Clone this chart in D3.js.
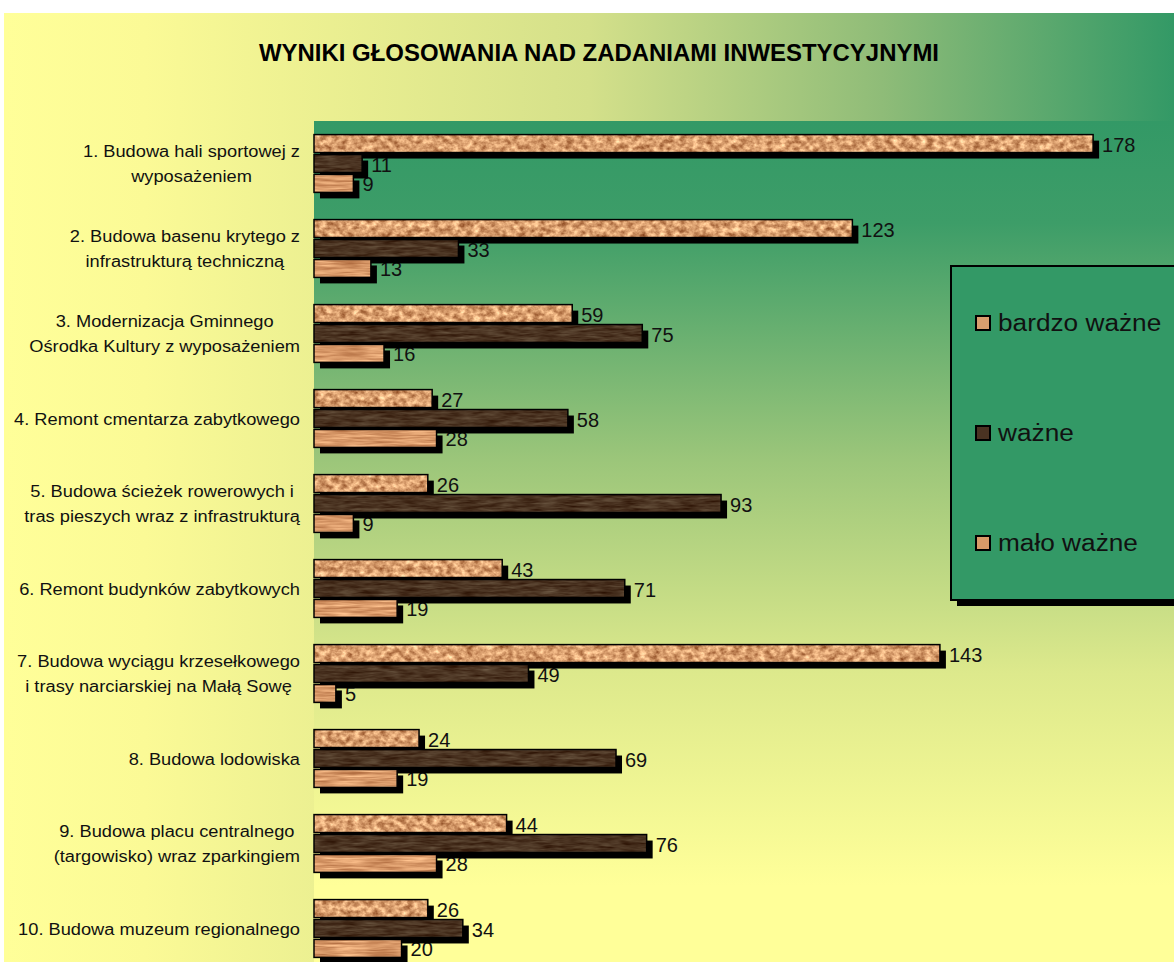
<!DOCTYPE html>
<html>
<head>
<meta charset="utf-8">
<script src="https://cdn.jsdelivr.net/npm/d3@7"></script>
<style>
  body { margin: 0; background: #fff; }
  svg { display: block; font-family: Arial, "Liberation Sans", sans-serif; }
</style>
</head>
<body>
<svg width="1174" height="962"></svg>
<script>
const width = 1174;
const height = 962;

const categories = [
  "1. Budowa hali sportowej z\nwyposażeniem",
  "2. Budowa basenu krytego z\ninfrastrukturą techniczną",
  "3. Modernizacja Gminnego\nOśrodka Kultury z wyposażeniem",
  "4. Remont cmentarza zabytkowego",
  "5. Budowa ścieżek rowerowych i\ntras pieszych wraz z infrastrukturą",
  "6. Remont budynków zabytkowych",
  "7. Budowa wyciągu krzesełkowego\ni trasy narciarskiej na Małą Sowę",
  "8. Budowa lodowiska",
  "9. Budowa placu centralnego\n(targowisko) wraz zparkingiem",
  "10. Budowa muzeum regionalnego"
];
const seriesNames = ["bardzo ważne", "ważne", "mało ważne"];
const bardzoWazne = [178, 123, 59, 27, 26, 43, 143, 24, 44, 26];
const wazne = [11, 33, 75, 58, 93, 71, 49, 69, 76, 34];
const maloWazne = [9, 13, 16, 28, 9, 19, 5, 19, 28, 20];
const seriesValues = [bardzoWazne, wazne, maloWazne];
const title = "WYNIKI GŁOSOWANIA NAD ZADANIAMI INWESTYCYJNYMI";

const svg = d3.select("svg");
const defs = svg.append("defs");
const stretch = 1.14; // the original text is drawn a bit wider than Arial

function widen(sel, k) {
  const w = sel.node().getComputedTextLength();
  sel.attr("textLength", w * k).attr("lengthAdjust", "spacingAndGlyphs");
}

// backgrounds
const bgGrad = defs.append("linearGradient").attr("id", "bgGrad")
  .attr("x1", 0).attr("x2", 1).attr("y1", 0).attr("y2", 0);
bgGrad.append("stop").attr("offset", "0%").attr("stop-color", "#ffff99");
bgGrad.append("stop").attr("offset", "12%").attr("stop-color", "#fbfa96");
bgGrad.append("stop").attr("offset", "50%").attr("stop-color", "#d4e08a");
bgGrad.append("stop").attr("offset", "75%").attr("stop-color", "#8fbc78");
bgGrad.append("stop").attr("offset", "100%").attr("stop-color", "#339966");

const plotGrad = defs.append("linearGradient").attr("id", "plotGrad")
  .attr("x1", 0).attr("x2", 0).attr("y1", 0).attr("y2", 1);
plotGrad.append("stop").attr("offset", "0%").attr("stop-color", "#339966");
plotGrad.append("stop").attr("offset", "12%").attr("stop-color", "#3d9d68");
plotGrad.append("stop").attr("offset", "40%").attr("stop-color", "#9cc67a");
plotGrad.append("stop").attr("offset", "65%").attr("stop-color", "#dde98c");
plotGrad.append("stop").attr("offset", "90%").attr("stop-color", "#ffff99");

// bar textures: noise mapped around a base colour
function textureFilter(id, freq, base, amp, seed) {
  const f = defs.append("filter").attr("id", id)
    .attr("x", 0).attr("y", 0).attr("width", 1).attr("height", 1)
    .attr("color-interpolation-filters", "sRGB");
  f.append("feTurbulence").attr("type", "fractalNoise")
    .attr("baseFrequency", freq).attr("numOctaves", 3).attr("seed", seed).attr("result", "noise");
  const row = (b, a) => `${a} 0 0 0 ${b - a * 0.5}`;
  f.append("feColorMatrix").attr("in", "noise").attr("type", "matrix")
    .attr("values", [row(base[0], amp), row(base[1], amp * 1.1), row(base[2], amp), "0 0 0 0 1"].join(" "))
    .attr("result", "col");
  f.append("feComposite").attr("in", "col").attr("in2", "SourceAlpha").attr("operator", "in");
}
textureFilter("tex0", "0.15 0.18", [0.85, 0.62, 0.43], 0.75, 7);
textureFilter("tex1", "0.05 0.35", [0.29, 0.20, 0.13], 0.3, 4);
textureFilter("tex2", "0.03 0.4", [0.85, 0.60, 0.41], 0.45, 11);

const barColors = ["#d99e6e", "#4a3322", "#d99a68"];

svg.append("rect").attr("x", 4).attr("y", 13).attr("width", width - 4).attr("height", height - 13)
  .attr("fill", "url(#bgGrad)");

const plotTop = 121, plotLeft = 314;
const x = d3.scaleLinear().domain([0, 200]).range([plotLeft, plotLeft + 200 * 4.377]);
const y0 = d3.scaleBand().domain(categories).range([plotTop, plotTop + 850])
  .paddingInner(0.32).paddingOuter(0.16);
const y1 = d3.scaleBand().domain(seriesNames).range([0, y0.bandwidth()]).paddingInner(0.1);

svg.append("rect").attr("x", plotLeft).attr("y", plotTop)
  .attr("width", width - plotLeft + 20).attr("height", 850).attr("fill", "url(#plotGrad)");

svg.append("text").attr("x", 599).attr("y", 61).attr("text-anchor", "middle")
  .attr("font-size", 23).attr("font-weight", "bold")
  .attr("textLength", 680).attr("lengthAdjust", "spacingAndGlyphs")
  .text(title);

// category labels: right-aligned block, lines centered
const catG = svg.append("g");
categories.forEach(c => {
  const lines = c.split("\n");
  const g = catG.append("g");
  const texts = lines.map(l => g.append("text").attr("font-size", 16).attr("fill", "#111").text(l));
  const widths = texts.map(t => t.node().getComputedTextLength() * stretch);
  const maxW = d3.max(widths);
  const cx = 300 - maxW / 2;
  const cy = y0(c) + y0.bandwidth() / 2;
  const lh = 25;
  texts.forEach((t, i) => {
    t.attr("x", cx).attr("text-anchor", "middle")
      .attr("y", cy + (i - (lines.length - 1) / 2) * lh + 6)
      .attr("textLength", widths[i]).attr("lengthAdjust", "spacingAndGlyphs");
  });
});

const rows = [];
seriesNames.forEach((s, si) => {
  seriesValues[si].forEach((v, ci) => rows.push({ s, si, c: categories[ci], v }));
});

// value labels drawn first so the bar shadows overlap them
svg.append("g").selectAll("text").data(rows).enter().append("text")
  .attr("x", d => x(d.v) + 9)
  .attr("y", d => y0(d.c) + y1(d.s) + y1.bandwidth() / 2 + 8)
  .attr("font-size", 20).attr("fill", "#111")
  .text(d => d.v);

const bars = svg.append("g").selectAll("g").data(rows).enter().append("g");
bars.append("rect")
  .attr("x", d => x(0) + 6).attr("y", d => y0(d.c) + y1(d.s) + 6)
  .attr("width", d => x(d.v) - x(0)).attr("height", y1.bandwidth())
  .attr("fill", "#000");
bars.append("rect")
  .attr("x", d => x(0)).attr("y", d => y0(d.c) + y1(d.s))
  .attr("width", d => x(d.v) - x(0)).attr("height", y1.bandwidth())
  .attr("fill", d => barColors[d.si]).attr("filter", d => `url(#tex${d.si})`);
bars.append("rect")
  .attr("x", d => x(0)).attr("y", d => y0(d.c) + y1(d.s))
  .attr("width", d => x(d.v) - x(0)).attr("height", y1.bandwidth())
  .attr("fill", "none").attr("stroke", "#000").attr("stroke-width", 1.5);

// legend
const lg = svg.append("g");
lg.append("rect").attr("x", 957).attr("y", 272).attr("width", 240).attr("height", 334).attr("fill", "#000");
lg.append("rect").attr("x", 951).attr("y", 266).attr("width", 240).attr("height", 334)
  .attr("fill", "#339966").attr("stroke", "#000").attr("stroke-width", 2);
const ly = d3.scalePoint().domain(seriesNames).range([323, 543]);
seriesNames.forEach((s, si) => {
  lg.append("rect").attr("x", 976).attr("y", ly(s) - 7).attr("width", 14).attr("height", 14)
    .attr("fill", barColors[si]);
  lg.append("rect").attr("x", 976).attr("y", ly(s) - 7).attr("width", 14).attr("height", 14)
    .attr("fill", "none").attr("stroke", "#000").attr("stroke-width", 2);
  const t = lg.append("text").attr("x", 998).attr("y", ly(s) + 8).attr("font-size", 23)
    .attr("fill", "#111").text(s);
  widen(t, stretch);
});
</script>
</body>
</html>
